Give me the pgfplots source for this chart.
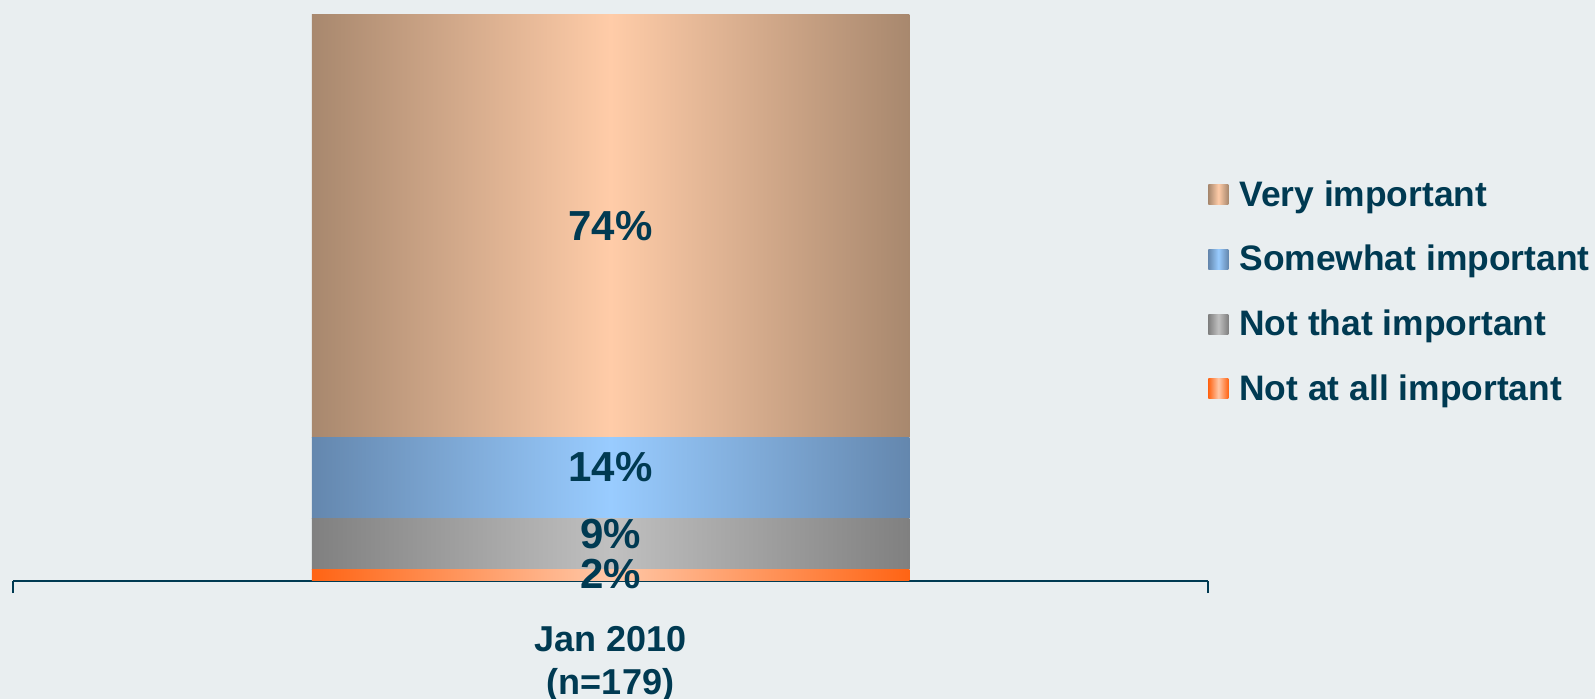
\documentclass[border=0pt]{standalone}
\usepackage{fontspec}
\setmainfont{Liberation Sans}
\usepackage{pgfplots}
\pgfplotsset{compat=1.18}
\definecolor{bg}{HTML}{E9EEF0}
\definecolor{ink}{HTML}{003A52}
\definecolor{veryE}{HTML}{A8886E}
\definecolor{veryM}{HTML}{FFCCA8}
\definecolor{someE}{HTML}{6487AE}
\definecolor{someM}{HTML}{99CCFF}
\definecolor{thatE}{HTML}{808080}
\definecolor{thatM}{HTML}{C0C0C0}
\definecolor{allE}{HTML}{FF6414}
\definecolor{allM}{HTML}{FFC8A8}

\pgfplotsset{
  seg/.style 2 args={draw=none, left color=#1, right color=#1, middle color=#2,
    legend image code/.code={\path[##1] (0bp,-5bp) rectangle (10bp,5bp);}},
  frame/.style={at={(6.5bp,59bp)}, anchor=south west, scale only axis,
    width=597.5bp, height=283.5bp, xmin=-1, xmax=1, ymin=0, ymax=99},
}

\begin{document}
\begin{tikzpicture}
\fill[bg] (0,0) rectangle (797.5bp,349.5bp);
\useasboundingbox (0,0) rectangle (797.5bp,349.5bp);
\begin{axis}[
  frame,
  ybar stacked, bar width=1,
  hide y axis, axis x line*=bottom,
  axis line style={ink, line width=1bp},
  xtick={0}, xticklabels={Jan 2010\\(n=179)},
  major tick length=0pt,
  extra x ticks={-1,1}, extra x tick labels={},
  extra x tick style={major tick length=6bp, tick align=outside,
    tick style={ink, line width=1bp}},
  xticklabel style={font=\fontsize{18bp}{21.5bp}\selectfont\bfseries,
    text=ink, align=center, yshift=-19bp},
  legend style={at={(1,0.51)}, anchor=west, draw=none, fill=none,
    font=\fontsize{17.7bp}{20bp}\selectfont\bfseries, text=ink,
    row sep=14bp, column sep=3.5bp, inner sep=0pt},
  legend cell align=left,
  reverse legend,
]
\addplot[seg={allE}{allM}] coordinates {(0,2)};
\addplot[seg={thatE}{thatM}] coordinates {(0,9)};
\addplot[seg={someE}{someM}] coordinates {(0,14)};
\addplot[seg={veryE}{veryM}] coordinates {(0,74)};
\legend{Not at all important, Not that important, Somewhat important, Very important}
\end{axis}
\begin{axis}[frame, hide axis]
\addplot[draw=none, mark=none, nodes near coords, point meta=explicit symbolic,
  nodes near coords style={anchor=center, text=ink,
    font=\fontsize{21bp}{24bp}\selectfont\bfseries}]
  coordinates {(0,62)[74\%] (0,19.9)[14\%] (0,8.2)[9\%] (0,1.2)[2\%]};
\end{axis}
\end{tikzpicture}
\end{document}
